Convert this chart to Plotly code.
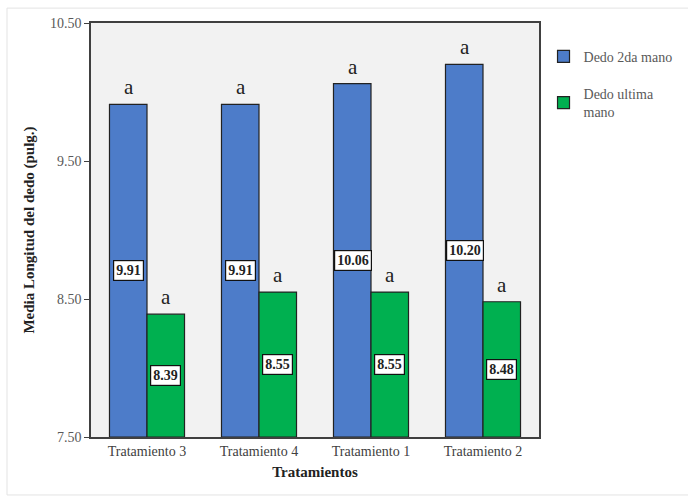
import plotly.graph_objects as go

categories = ["Tratamiento 3", "Tratamiento 4", "Tratamiento 1", "Tratamiento 2"]
dedo_2da = [9.91, 9.91, 10.06, 10.20]
dedo_ultima = [8.39, 8.55, 8.55, 8.48]
letters_2da = ["a", "a", "a", "a"]
letters_ultima = ["a", "a", "a", "a"]
series_names = ["Dedo 2da mano", "Dedo ultima<br>mano"]
y_min, y_max = 7.5, 10.5
y_ticks = [7.5, 8.5, 9.5, 10.5]

SERIF = "Liberation Serif"
BLUE = "#4D7CC9"
GREEN = "#00B050"

fig = go.Figure()
fig.add_trace(go.Bar(x=categories, y=[v - y_min for v in dedo_2da], base=y_min, legendgroup="g1",
                     name=series_names[0], marker=dict(color=BLUE, line=dict(color="#222222", width=1.2))))
fig.add_trace(go.Bar(x=categories, y=[v - y_min for v in dedo_ultima], base=y_min, legendgroup="g2",
                     name=series_names[1], marker=dict(color=GREEN, line=dict(color="#222222", width=1.2))))

half = 18.5
for i, c in enumerate(categories):
    for vals, letters, sh in ((dedo_2da, letters_2da, -half), (dedo_ultima, letters_ultima, half)):
        v = vals[i]
        fig.add_annotation(x=c, y=v, xref="x", yref="y", xshift=sh, yshift=3,
                           text=letters[i], showarrow=False, yanchor="bottom",
                           font=dict(family=SERIF, size=21, color="#222222"))
        fig.add_annotation(x=c, y=(y_min + v) / 2, xref="x", yref="y", xshift=sh,
                           text="<b>%.2f</b>" % v, showarrow=False,
                           bgcolor="white", bordercolor="#111111", borderwidth=1.2, borderpad=2,
                           font=dict(family=SERIF, size=14, color="#222222"))

# light outer frame
fig.add_shape(type="rect", xref="paper", yref="paper", x0=-0.1875, x1=1.4, y0=-0.14, y1=1.036,
              line=dict(color="#e3e3e3", width=1), layer="below")

fig.update_layout(
    width=688, height=497,
    margin=dict(l=91, r=149, t=23, b=60, autoexpand=False),
    paper_bgcolor="white", plot_bgcolor="#F2F2F2",
    barmode="group", bargap=0.33, bargroupgap=0,
    font=dict(family=SERIF, size=14, color="#404040"),
    legend=dict(xref="container", yref="container", x=0.79, y=0.918, xanchor="left", yanchor="top",
                bgcolor="rgba(0,0,0,0)",
                font=dict(family=SERIF, size=14, color="#595959"),
                itemwidth=30, tracegroupgap=16),
    showlegend=True,
)
fig.update_xaxes(showline=True, linecolor="#404040", linewidth=1.5, mirror=True,
                 ticks="", tickfont=dict(family=SERIF, size=14, color="#404040"),
                 title=dict(text="<b>Tratamientos</b>", font=dict(family=SERIF, size=15, color="#222222"), standoff=9))
fig.update_yaxes(range=[y_min, y_max], tickvals=y_ticks, tickformat=".2f",
                 showline=True, linecolor="#404040", linewidth=1.5, mirror=True,
                 ticks="outside", ticklen=5, tickcolor="#404040", showgrid=False, zeroline=False,
                 tickfont=dict(family=SERIF, size=14, color="#595959"),
                 title=dict(text="<b>Media Longitud del dedo (pulg.)</b>", font=dict(family=SERIF, size=15, color="#222222"), standoff=12))

fig.write_html("out.html")
